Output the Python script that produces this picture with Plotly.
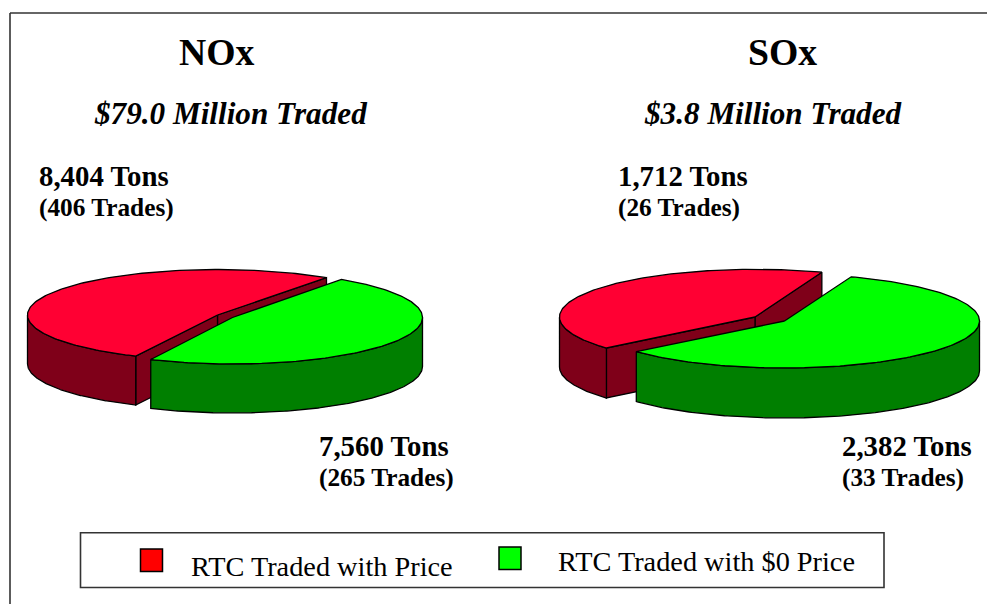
"""Two exploded 3D-look pies (NOx, SOx) drawn on a pixel-sized plotly canvas."""

import numpy as np
import plotly.graph_objects as go

SERIES = ["RTC Traded with Price", "RTC Traded with $0 Price"]
NOX_TONS = [8404, 7560]
SOX_TONS = [1712, 2382]
NOX_TRADES = [406, 265]
SOX_TRADES = [26, 33]
NOX_MILLIONS = 79.0
SOX_MILLIONS = 3.8

WIDTH, HEIGHT = 987, 604
FONT = "Liberation Serif"
TOP_COLORS = ["#FF0033", "#00FF00"]
SIDE_COLORS = ["#7F0019", "#007F00"]
EDGE = dict(color="#000000", width=1.3)


def arc(cx, cy, rx, ry, a0, a1, drop=0.0):
    t = np.radians(np.linspace(a0, a1, 160))
    return cx + rx * np.cos(t), cy - ry * np.sin(t) + drop


def add_poly(fig, x, y, color, name):
    fig.add_trace(go.Scatter(
        x=np.append(x, x[0]), y=np.append(y, y[0]), mode="lines", fill="toself",
        fillcolor=color, line=EDGE, name=name, hoverinfo="name", showlegend=False,
    ))


def add_wedge(fig, center, rx, ry, depth, a0, a1, i):
    """One slice: outer wall and cut faces first, lid on top."""
    cx, cy = center
    name = SERIES[i]

    # cut faces: only the red slice shows them, the green one hides its own
    if i == 0:
        for a in (a0, a1):
            ex = cx + rx * np.cos(np.radians(a))
            ey = cy - ry * np.sin(np.radians(a))
            add_poly(fig, np.array([cx, ex, ex, cx]),
                     np.array([cy, ey, ey + depth, cy + depth]), SIDE_COLORS[i], name)

    # outer wall: front half of the rim only
    lo, hi = max(a0, 180), min(a1, 360)
    if hi > lo:
        tx, ty = arc(cx, cy, rx, ry, lo, hi)
        bx, by = arc(cx, cy, rx, ry, hi, lo, depth)
        add_poly(fig, np.concatenate([tx, bx]), np.concatenate([ty, by]), SIDE_COLORS[i], name)

    ax, ay = arc(cx, cy, rx, ry, a0, a1)
    add_poly(fig, np.concatenate([[cx], ax]), np.concatenate([[cy], ay]), TOP_COLORS[i], name)


def add_pie(fig, tons, centers, radii, depth, start):
    sweep = 360 * tons[0] / sum(tons)
    add_wedge(fig, centers[0], *radii[0], depth, start, start + sweep, 0)
    add_wedge(fig, centers[1], *radii[1], depth, start + sweep, start + 360, 1)


def label(fig, x, y, text, size, anchor="left", bold=True, italic=False):
    if bold:
        text = f"<b>{text}</b>"
    if italic:
        text = f"<i>{text}</i>"
    fig.add_annotation(
        x=x, y=y, text=text, showarrow=False, xanchor=anchor, yanchor="middle",
        font=dict(family=FONT, size=size, color="#000000"),
    )


fig = go.Figure()

add_pie(fig, NOX_TONS, [(217.5, 315), (232.5, 317.5)], [(190, 45.5), (190, 46.5)], 49, 55)
add_pie(fig, SOX_TONS, [(755, 317), (784.5, 321)], [(195.5, 47.7), (195, 47)], 50, 70)

label(fig, 216.5, 52, "NOx", 37.7, "center")
label(fig, 782, 52, "SOx", 37.7, "center")
label(fig, 230.5, 113, f"${NOX_MILLIONS:.1f} Million Traded", 31.2, "center", italic=True)
label(fig, 773, 113, f"${SOX_MILLIONS:.1f} Million Traded", 31.2, "center", italic=True)

label(fig, 37, 176, f"{NOX_TONS[0]:,} Tons", 28.8)
label(fig, 37, 207, f"({NOX_TRADES[0]} Trades)", 25.3)
label(fig, 616, 176, f"{SOX_TONS[0]:,} Tons", 28.8)
label(fig, 616, 207, f"({SOX_TRADES[0]} Trades)", 25.3)
label(fig, 317, 446, f"{NOX_TONS[1]:,} Tons", 28.8)
label(fig, 317, 477, f"({NOX_TRADES[1]} Trades)", 25.3)
label(fig, 840, 446, f"{SOX_TONS[1]:,} Tons", 28.8)
label(fig, 840, 477, f"({SOX_TRADES[1]} Trades)", 25.3)

label(fig, 189, 566, SERIES[0], 28.3, bold=False)
label(fig, 556, 561.5, SERIES[1], 28.3, bold=False)

# frame, legend box and legend keys
frame = dict(color="#333333", width=1.6)
fig.add_shape(type="line", x0=10, x1=10, y0=13, y1=HEIGHT, line=frame)
fig.add_shape(type="line", x0=10, x1=WIDTH, y0=13, y1=13, line=frame)
fig.add_shape(type="rect", x0=80.5, x1=884, y0=532.7, y1=587.5, line=frame)
fig.add_shape(type="rect", x0=140.5, x1=162.5, y0=549, y1=571.5,
              fillcolor="#FF0000", line=dict(color="#000000", width=1.5))
fig.add_shape(type="rect", x0=499, x1=521, y0=547, y1=569.5,
              fillcolor="#00FF00", line=dict(color="#000000", width=1.5))

fig.update_layout(
    width=WIDTH, height=HEIGHT,
    margin=dict(l=0, r=0, t=0, b=0),
    paper_bgcolor="white", plot_bgcolor="white",
    showlegend=False,
)
fig.update_xaxes(range=[0, WIDTH], visible=False, fixedrange=True)
fig.update_yaxes(range=[HEIGHT, 0], visible=False, fixedrange=True)

fig.write_html("out.html", config=dict(displayModeBar=False),
               post_script="document.body.style.margin='0';")
